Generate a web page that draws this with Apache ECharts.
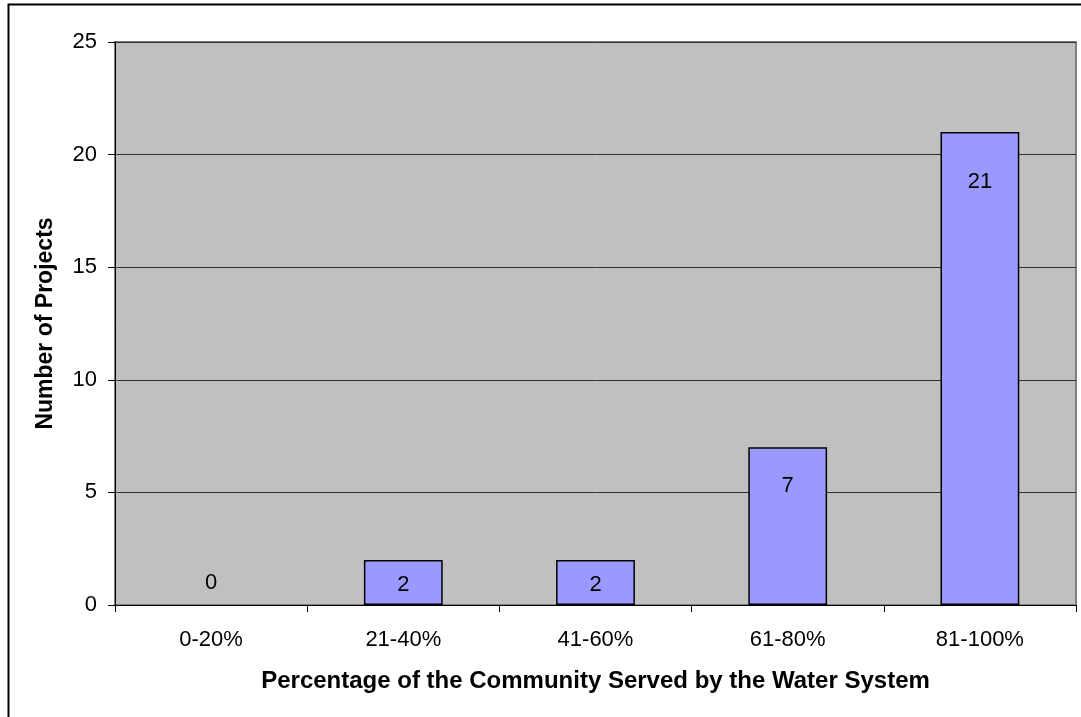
<!DOCTYPE html>
<html>
<head>
<meta charset="utf-8">
<script src="https://cdn.jsdelivr.net/npm/echarts@6/dist/echarts.min.js"></script>
<style>
  html, body { margin: 0; padding: 0; background: #ffffff; }
  #chart { width: 1081px; height: 717px; }
</style>
</head>
<body>
<div id="chart"></div>
<script>
// Share of the community served by the water system, grouped in 20% bands
const categories = ['0-20%', '21-40%', '41-60%', '61-80%', '81-100%'];
const projectCounts = [0, 2, 2, 7, 21];

// Value axis range and step
const yMin = 0;
const yMax = 25;
const yStep = 5;

const FONT = '"Liberation Sans", Arial, sans-serif';

// Where each value label sits relative to its bar
const labelPlacement = [
  { position: 'top', distance: 11, offset: [0, 0] },
  { position: 'inside', distance: 0, offset: [0, 2] },
  { position: 'inside', distance: 0, offset: [0, 2] },
  { position: 'insideTop', distance: 28, offset: [0, 0] },
  { position: 'insideTop', distance: 39, offset: [0, 0] }
];

const barData = projectCounts.map((v, i) => ({
  value: v,
  // an empty band draws no outline
  itemStyle: v === 0 ? { borderWidth: 0 } : undefined,
  label: {
    position: labelPlacement[i].position,
    distance: labelPlacement[i].distance,
    offset: labelPlacement[i].offset
  }
}));

const chart = echarts.init(document.getElementById('chart'), null, { renderer: 'canvas' });

chart.setOption({
  backgroundColor: '#ffffff',
  animation: false,
  textStyle: { fontFamily: FONT },
  graphic: [{
    type: 'rect',
    silent: true,
    shape: { x: 8.5, y: 4.5, width: 1200, height: 900 },
    style: { fill: 'none', stroke: '#000000', lineWidth: 2 }
  }],
  grid: {
    left: 115,
    top: 42,
    right: 5,
    bottom: 112,
    show: true,
    backgroundColor: '#C0C0C0',
    borderColor: '#808080',
    borderWidth: 2
  },
  xAxis: {
    type: 'category',
    data: categories,
    boundaryGap: true,
    name: 'Percentage of the Community Served by the Water System',
    nameLocation: 'middle',
    nameGap: 64,
    nameTextStyle: { fontFamily: FONT, fontSize: 24, fontWeight: 'bold', color: '#000000' },
    axisLine: { show: true, lineStyle: { color: '#000000', width: 1 } },
    axisTick: { show: true, alignWithLabel: false, length: 7, lineStyle: { color: '#000000', width: 1 } },
    axisLabel: { fontFamily: FONT, fontSize: 22, color: '#000000', margin: 24 },
    splitLine: { show: false }
  },
  yAxis: {
    type: 'value',
    min: yMin,
    max: yMax,
    interval: yStep,
    name: 'Number of Projects',
    nameLocation: 'middle',
    nameGap: 58,
    nameRotate: 90,
    nameTextStyle: { fontFamily: FONT, fontSize: 23, fontWeight: 'bold', color: '#000000' },
    axisLine: { show: true, lineStyle: { color: '#000000', width: 1 } },
    axisTick: { show: true, length: 7, lineStyle: { color: '#000000', width: 1 } },
    axisLabel: { fontFamily: FONT, fontSize: 22, color: '#000000', margin: 18 },
    splitLine: { show: true, lineStyle: { color: '#303030', width: 1 } }
  },
  series: [{
    type: 'bar',
    data: barData,
    barWidth: '41%',
    itemStyle: { color: '#9999FF', borderColor: '#000000', borderWidth: 1.5 },
    label: {
      show: true,
      fontFamily: FONT,
      fontSize: 22,
      color: '#000000'
    }
  }]
});
</script>
</body>
</html>
